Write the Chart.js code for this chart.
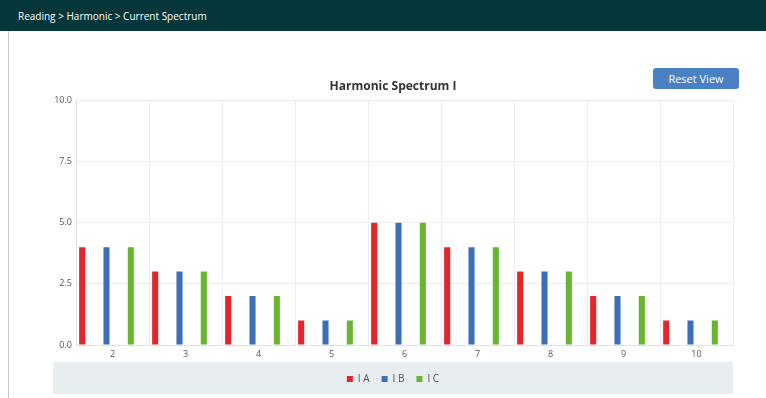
<!DOCTYPE html>
<html>
<head>
<meta charset="utf-8">
<script src="https://cdn.jsdelivr.net/npm/chart.js@4.4.0/dist/chart.umd.min.js"></script>
<style>
  html, body { margin: 0; padding: 0; width: 766px; height: 398px; background: #fff; overflow: hidden; font-family: "Open Sans", sans-serif; }
  #header { position: absolute; left: 0; top: 0; width: 766px; height: 31px; background: #05363a; color: #fff; font-size: 10px; line-height: 32px; padding-left: 18px; box-sizing: border-box; }
  #border { position: absolute; left: 8px; top: 31px; width: 1px; height: 367px; background: #c8c8c8; }
  #legendBand { position: absolute; left: 53px; top: 362px; width: 680px; height: 32px; background: #e8eef0; }
  #reset { position: absolute; left: 653px; top: 68px; width: 86px; height: 21px; background: #4a80c4; color: #fff; border-radius: 3px; font-size: 11px; line-height: 21px; text-align: center; }
  #wrap { position: absolute; left: 40px; top: 60px; width: 706px; height: 334px; }
</style>
</head>
<body>
<div id="header">Reading &gt; Harmonic &gt; Current Spectrum</div>
<div id="border"></div>
<div id="legendBand"></div>
<div id="wrap"><canvas id="chart"></canvas></div>
<div id="reset">Reset View</div>
<script>
const harmonics = ["2", "3", "4", "5", "6", "7", "8", "9", "10"];
const phaseA = [4, 3, 2, 1, 5, 4, 3, 2, 1];
const phaseB = [4, 3, 2, 1, 5, 4, 3, 2, 1];
const phaseC = [4, 3, 2, 1, 5, 4, 3, 2, 1];
const yTicks = [0, 2.5, 5, 7.5, 10];

// bars sit a little left of the category centre in the original
const shiftBars = {
  id: "shiftBars",
  beforeDatasetsDraw(chart) { chart.ctx.save(); chart.ctx.translate(-6, 0); },
  afterDatasetsDraw(chart) { chart.ctx.restore(); }
};

const ctx = document.getElementById("chart").getContext("2d");
new Chart(ctx, {
  type: "bar",
  data: {
    labels: harmonics,
    datasets: [
      { label: "I A", data: phaseA, backgroundColor: "#e3262b" },
      { label: "I B", data: phaseB, backgroundColor: "#3c6fb7" },
      { label: "I C", data: phaseC, backgroundColor: "#68b52f" }
    ]
  },
  options: {
    responsive: true,
    maintainAspectRatio: false,
    animation: false,
    layout: { padding: { left: 13, right: 13, top: 0, bottom: 0 } },
    datasets: { bar: { categoryPercentage: 1.0, barPercentage: 0.25 } },
    scales: {
      x: {
        offset: true,
        grid: { offset: true, color: "#ececec", drawTicks: false },
        border: { color: "#e2e2e2" },
        ticks: { color: "#555", font: { family: "Open Sans", size: 9 }, padding: 4 },
        afterFit: s => { s.height = 17; }
      },
      y: {
        min: 0,
        max: 10,
        afterBuildTicks: s => { s.ticks = yTicks.map(v => ({ value: v })); },
        grid: { color: "#ececec", drawTicks: false },
        border: { color: "#e2e2e2" },
        ticks: { color: "#555", font: { family: "Open Sans", size: 9 }, padding: 4, callback: v => Number(v).toFixed(1) },
        afterFit: s => { s.width = 23; }
      }
    },
    plugins: {
      title: {
        display: true,
        text: "Harmonic Spectrum I",
        color: "#333",
        font: { family: "Open Sans", size: 12, weight: "bold" },
        padding: { top: 19, bottom: 7 }
      },
      legend: {
        position: "bottom",
        labels: {
          boxWidth: 6,
          boxHeight: 6,
          padding: 12,
          color: "#555",
          font: { family: "Open Sans", size: 10 }
        }
      },
      tooltip: { enabled: false }
    }
  },
  plugins: [shiftBars]
});
</script>
</body>
</html>
